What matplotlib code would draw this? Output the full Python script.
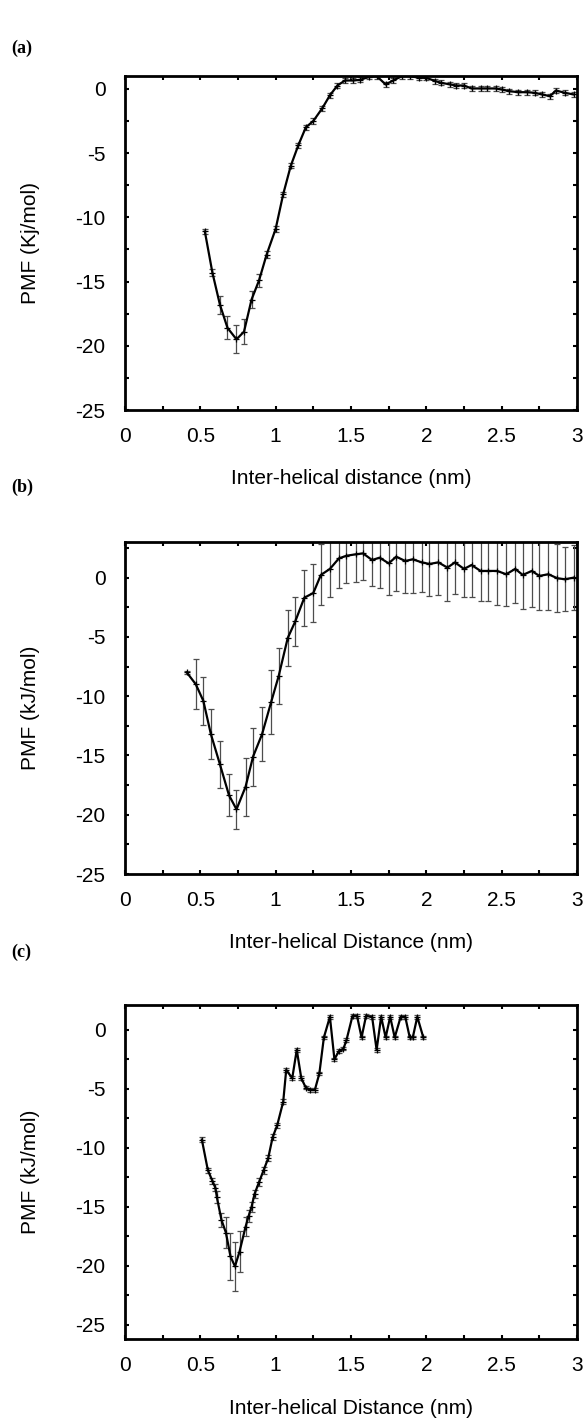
import numpy as np
import matplotlib
matplotlib.use("Agg")
import matplotlib.pyplot as plt
from matplotlib.ticker import MultipleLocator, FormatStrFormatter

plt.rcParams["font.family"] = ["Liberation Sans", "DejaVu Sans"]
plt.rcParams["axes.unicode_minus"] = False

# panel (a)
x_a = [0.53, 0.58, 0.63, 0.68, 0.74, 0.79, 0.84, 0.89, 0.94, 1.00, 1.05, 1.10,
       1.15, 1.20, 1.25, 1.31, 1.36, 1.41, 1.46, 1.51, 1.56, 1.62, 1.67, 1.73,
       1.78, 1.84, 1.89, 1.95, 2.00, 2.06, 2.10, 2.16, 2.20, 2.25, 2.30, 2.36,
       2.40, 2.46, 2.50, 2.55, 2.61, 2.67, 2.72, 2.77, 2.82, 2.86, 2.92, 2.98]
y_a = [-11.1, -14.3, -16.8, -18.6, -19.5, -18.9, -16.4, -14.9, -12.9, -10.9, -8.2, -6.0,
       -4.4, -3.0, -2.5, -1.5, -0.5, 0.26, 0.65, 0.65, 0.7, 0.93, 1.0, 0.34,
       0.65, 1.0, 1.0, 0.86, 0.86, 0.6, 0.47, 0.34, 0.26, 0.26, 0.03, 0.03,
       0.03, 0.03, -0.05, -0.18, -0.26, -0.26, -0.31, -0.44, -0.57, -0.13, -0.31, -0.44]
err_a = [0.2, 0.25, 0.7, 0.9, 1.1, 1.0, 0.65, 0.5, 0.3, 0.25, 0.2, 0.2,
         0.2, 0.2, 0.2, 0.2, 0.2, 0.2, 0.2, 0.2, 0.2, 0.2, 0.2, 0.2,
         0.2, 0.2, 0.2, 0.2, 0.2, 0.2, 0.2, 0.2, 0.2, 0.2, 0.2, 0.2,
         0.2, 0.2, 0.2, 0.2, 0.2, 0.2, 0.2, 0.2, 0.2, 0.2, 0.2, 0.2]

# panel (b)
x_b = [0.41, 0.47, 0.52, 0.57, 0.63, 0.69, 0.74, 0.80, 0.85, 0.91, 0.97, 1.02,
       1.08, 1.13, 1.19, 1.25, 1.30, 1.36, 1.42, 1.47, 1.53, 1.58, 1.64, 1.69,
       1.75, 1.80, 1.86, 1.91, 1.97, 2.02, 2.08, 2.14, 2.19, 2.25, 2.30, 2.36,
       2.41, 2.47, 2.53, 2.59, 2.64, 2.70, 2.75, 2.81, 2.87, 2.92, 2.98]
y_b = [-8.0, -9.0, -10.4, -13.2, -15.75, -18.35, -19.55, -17.65, -15.1, -13.2, -10.5, -8.3,
       -5.1, -3.7, -1.7, -1.3, 0.22, 0.73, 1.62, 1.84, 1.96, 2.04, 1.48, 1.68,
       1.2, 1.76, 1.4, 1.54, 1.28, 1.15, 1.28, 0.84, 1.28, 0.73, 1.06, 0.56,
       0.56, 0.56, 0.28, 0.73, 0.22, 0.56, 0.14, 0.28, -0.06, -0.14, 0.0]
err_b = [0.1, 2.1, 2.0, 2.1, 2.0, 1.75, 1.65, 2.45, 2.45, 2.3, 2.7, 2.4,
         2.35, 2.1, 2.35, 2.45, 2.57, 2.37, 2.46, 2.26, 2.37, 2.23, 2.23, 2.57,
         2.65, 2.93, 2.7, 2.8, 2.46, 2.68, 2.74, 2.79, 2.68, 2.4, 2.7, 2.57,
         2.5, 2.9, 2.7, 2.9, 2.9, 3.07, 2.9, 3.04, 2.85, 2.7, 2.74]

# panel (c)
x_c = [0.51, 0.55, 0.58, 0.60, 0.61, 0.64, 0.67, 0.70, 0.73, 0.76, 0.80, 0.82,
       0.84, 0.86, 0.89, 0.92, 0.95, 0.98, 1.01, 1.05, 1.07, 1.11, 1.14, 1.17,
       1.20, 1.23, 1.26, 1.29, 1.32, 1.36, 1.39, 1.42, 1.45, 1.47, 1.51, 1.54,
       1.57, 1.60, 1.64, 1.67, 1.70, 1.73, 1.76, 1.79, 1.83, 1.86, 1.89, 1.91,
       1.94, 1.98]
y_c = [-9.3, -11.9, -12.8, -13.4, -14.2, -16.1, -17.2, -19.2, -20.05, -18.8, -16.7, -15.8,
       -15.0, -13.9, -12.9, -11.9, -10.9, -9.1, -8.1, -6.1, -3.4, -4.1, -1.7, -4.1,
       -4.9, -5.1, -5.1, -3.7, -0.65, 1.1, -2.5, -1.8, -1.6, -0.87, 1.18, 1.18,
       -0.65, 1.18, 1.1, -1.7, 1.1, -0.65, 1.1, -0.65, 1.1, 1.1, -0.65, -0.65,
       1.1, -0.65]
err_c = [0.25, 0.2, 0.25, 0.3, 0.5, 0.6, 1.3, 2.0, 2.1, 1.75, 0.8, 0.5,
         0.4, 0.35, 0.3, 0.3, 0.25, 0.25, 0.2, 0.2, 0.15, 0.15, 0.15, 0.15,
         0.15, 0.15, 0.15, 0.15, 0.15, 0.15, 0.15, 0.15, 0.15, 0.15, 0.15, 0.15,
         0.15, 0.15, 0.15, 0.15, 0.15, 0.15, 0.15, 0.15, 0.15, 0.15, 0.15, 0.15,
         0.15, 0.15]

fig = plt.figure(figsize=(5.87, 14.22), dpi=100)
H = 1422.0
W = 587.0

panels = [
    ("(a)", 48, 76, 410, x_a, y_a, err_a, (-25, 1), "PMF (Kj/mol)", "Inter-helical distance (nm)"),
    ("(b)", 487, 542, 874, x_b, y_b, err_b, (-25, 3), "PMF (kJ/mol)", "Inter-helical Distance (nm)"),
    ("(c)", 952, 1005, 1339, x_c, y_c, err_c, (-26.2, 2.1), "PMF (kJ/mol)", "Inter-helical Distance (nm)"),
]

for tag, ty, top, bot, x, y, err, ylim, ylab, xlab in panels:
    ax = fig.add_axes([125 / W, 1 - bot / H, (577 - 125) / W, (bot - top) / H])
    ax.errorbar(x, y, yerr=err, color="black", lw=1.6, marker="+", ms=5, mew=0.9,
                ecolor="0.3", elinewidth=0.9, capsize=2.5, capthick=0.9)
    ax.set_xlim(0, 3)
    ax.set_ylim(*ylim)
    ax.xaxis.set_major_locator(MultipleLocator(0.5))
    ax.xaxis.set_minor_locator(MultipleLocator(0.25))
    ax.yaxis.set_major_locator(MultipleLocator(5))
    ax.yaxis.set_minor_locator(MultipleLocator(2.5))
    ax.xaxis.set_major_formatter(FormatStrFormatter("%g"))
    ax.yaxis.set_major_formatter(FormatStrFormatter("%g"))
    ax.tick_params(which="both", direction="in", top=True, right=True,
                   length=3, width=1.5, labelsize=15)
    ax.tick_params(axis="x", pad=12)
    ax.tick_params(axis="y", pad=14)
    for s in ax.spines.values():
        s.set_linewidth(2)
    ax.set_ylabel(ylab, fontsize=15)
    ax.set_xlabel(xlab, fontsize=15, va="center")
    ax.yaxis.set_label_coords(-0.188, 0.5)
    ax.xaxis.set_label_coords(0.5, -69 / (bot - top))
    fig.text(0.02, 1 - ty / H, tag, family=["Liberation Serif"], weight="bold",
             fontsize=13, va="center", ha="left")

fig.savefig("out.png", dpi=100)
